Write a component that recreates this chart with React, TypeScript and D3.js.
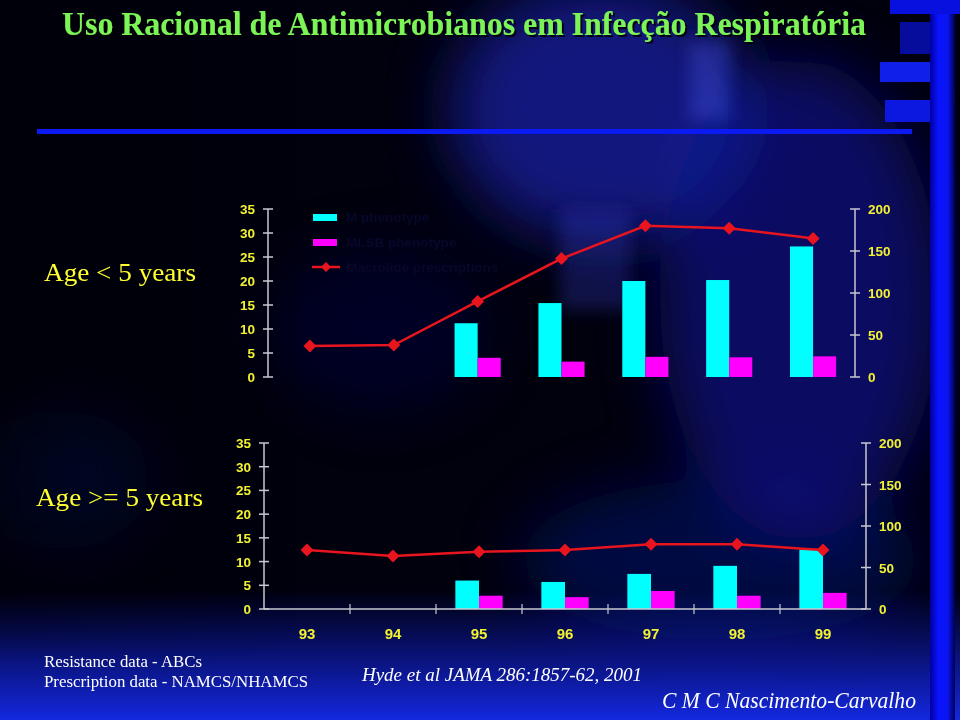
import React from "react";
import * as d3 from "d3";

const years = ["93", "94", "95", "96", "97", "98", "99"];
const topM = [null, null, 11.2, 15.4, 20.0, 20.2, 27.2];
const topMLS = [null, null, 4.0, 3.2, 4.2, 4.1, 4.3];
const topRx = [37, 38, 90, 141, 180, 177, 165];
const botM = [null, null, 6.0, 5.7, 7.4, 9.1, 12.5];
const botMLS = [null, null, 2.8, 2.5, 3.8, 2.8, 3.4];
const botRx = [71, 64, 69, 71, 78, 78, 71];
const leftTicks = [0, 5, 10, 15, 20, 25, 30, 35];
const rightTicks = [0, 50, 100, 150, 200];
const legendLabels = ["M phenotype", "MLSB phenotype", "Macrolide prescriptions"];

const CYAN = "#00ffff";
const MAGENTA = "#ff00ff";
const RED = "#e8141e";
const YELLOW = "#f2f232";
const AXIS = "#c8c8d0";
const SANS = "Liberation Sans, Arial, sans-serif";
const SERIF = "Liberation Serif, Times New Roman, serif";

type PanelProps = {
  left: number; right: number; y0: number; y1: number;
  m: (number | null)[]; mls: (number | null)[]; rx: number[];
  xAxis: boolean; legend: boolean;
};

function Panel({ left, right, y0, y1, m, mls, rx, xAxis, legend }: PanelProps) {
  const x = d3.scaleBand().domain(years).range([left, right]).padding(0);
  const bw = x.bandwidth();
  const x1 = d3.scaleBand().domain(["m", "mls"]).range([bw * 0.225, bw * 0.775]).padding(0);
  const yL = d3.scaleLinear().domain([0, 35]).range([y0, y1]);
  const yR = d3.scaleLinear().domain([0, 200]).range([y0, y1]);
  const cx = (yr: string) => (x(yr) as number) + bw / 2;
  const line = d3.line<number>().x((_, i) => cx(years[i])).y((d) => yR(d));
  const dia = (px: number, py: number, r: number) =>
    `M${px - r},${py}L${px},${py - r}L${px + r},${py}L${px},${py + r}Z`;

  return (
    <g>
      {years.map((yr, i) => (
        <g key={yr}>
          {m[i] != null && (
            <rect x={(x(yr) as number) + (x1("m") as number)} width={x1.bandwidth()}
              y={yL(m[i] as number)} height={y0 - yL(m[i] as number)} fill={CYAN} />
          )}
          {mls[i] != null && (
            <rect x={(x(yr) as number) + (x1("mls") as number)} width={x1.bandwidth()}
              y={yL(mls[i] as number)} height={y0 - yL(mls[i] as number)} fill={MAGENTA} />
          )}
        </g>
      ))}
      <line x1={left} x2={left} y1={y1} y2={y0} stroke={AXIS} strokeWidth={1.5} />
      {leftTicks.map((t) => (
        <g key={t}>
          <line x1={left - 5} x2={left + 5} y1={yL(t)} y2={yL(t)} stroke={AXIS} strokeWidth={1.5} />
          <text x={left - 13} y={yL(t) + 5} textAnchor="end" fill={YELLOW}
            fontFamily={SANS} fontWeight="bold" fontSize={13.5}>{t}</text>
        </g>
      ))}
      <line x1={right} x2={right} y1={y1} y2={y0} stroke={AXIS} strokeWidth={1.5} />
      {rightTicks.map((t) => (
        <g key={t}>
          <line x1={right - 5} x2={right + 5} y1={yR(t)} y2={yR(t)} stroke={AXIS} strokeWidth={1.5} />
          <text x={right + 13} y={yR(t) + 5} textAnchor="start" fill={YELLOW}
            fontFamily={SANS} fontWeight="bold" fontSize={13.5}>{t}</text>
        </g>
      ))}
      {xAxis && (
        <g>
          <line x1={left} x2={right} y1={y0} y2={y0} stroke={AXIS} strokeWidth={1.5} />
          {years.slice(1).map((yr) => (
            <line key={yr} x1={x(yr)} x2={x(yr)} y1={y0 - 5} y2={y0 + 5} stroke={AXIS} strokeWidth={1.2} />
          ))}
          {years.map((yr) => (
            <text key={yr} x={cx(yr)} y={y0 + 30} textAnchor="middle" fill={YELLOW}
              fontFamily={SANS} fontWeight="bold" fontSize={15}>{yr}</text>
          ))}
        </g>
      )}
      <path d={line(rx) || ""} fill="none" stroke={RED} strokeWidth={2.5} />
      {rx.map((v, i) => (
        <path key={i} d={dia(cx(years[i]), yR(v), 6.5)} fill={RED} />
      ))}
      {legend && (
        <g>
          <rect x={left + 45} y={y1 + 5} width={24} height={7} fill={CYAN} />
          <rect x={left + 45} y={y1 + 30} width={24} height={7} fill={MAGENTA} />
          <line x1={left + 44} x2={left + 72} y1={y1 + 58} y2={y1 + 58} stroke={RED} strokeWidth={2.5} />
          <path d={dia(left + 58, y1 + 58, 5)} fill={RED} />
          {legendLabels.map((l, i) => (
            <text key={l} x={left + 78} y={y1 + 13 + i * 25} fill="#07072a"
              fontFamily={SANS} fontWeight="bold" fontSize={13.5}>{l}</text>
          ))}
        </g>
      )}
    </g>
  );
}

export default function App() {
  return (
    <svg width={960} height={720} style={{ display: "block", position: "absolute", left: 0, top: 0 }}>
      <defs>
        <filter id="blur20" x="-50%" y="-50%" width="200%" height="200%">
          <feGaussianBlur stdDeviation="30" />
        </filter>
        <filter id="blur8" x="-50%" y="-50%" width="200%" height="200%">
          <feGaussianBlur stdDeviation="8" />
        </filter>
        <filter id="shadow" x="-5%" y="-30%" width="110%" height="160%">
          <feDropShadow dx="2" dy="2" stdDeviation="0.5" floodColor="#000000" floodOpacity="0.85" />
        </filter>
        <linearGradient id="bottomGrad" x1="0" y1="0" x2="0" y2="1">
          <stop offset="0" stopColor="#1020d8" stopOpacity="0" />
          <stop offset="1" stopColor="#1428e0" stopOpacity="1" />
        </linearGradient>
        <linearGradient id="leftDark" x1="0" y1="0" x2="1" y2="0">
          <stop offset="0" stopColor="#000006" stopOpacity="1" />
          <stop offset="1" stopColor="#000006" stopOpacity="0" />
        </linearGradient>
        <linearGradient id="leftDarkV" x1="0" y1="0" x2="0" y2="1">
          <stop offset="0.8" stopColor="#ffffff" stopOpacity="1" />
          <stop offset="1" stopColor="#ffffff" stopOpacity="0" />
        </linearGradient>
        <mask id="leftMask">
          <rect x={0} y={0} width={300} height={660} fill="url(#leftDarkV)" />
        </mask>
        <linearGradient id="strip" x1="0" y1="0" x2="1" y2="0">
          <stop offset="0" stopColor="#0000a0" />
          <stop offset="0.35" stopColor="#0a14ff" />
          <stop offset="0.7" stopColor="#0a14f0" />
          <stop offset="1" stopColor="#000050" />
        </linearGradient>
      </defs>
      <rect x={0} y={0} width={960} height={720} fill="#01010e" />
      <g filter="url(#blur20)">
        <ellipse cx={600} cy={110} rx={150} ry={130} fill="#1a28c8" opacity={0.6} />
        <ellipse cx={800} cy={300} rx={140} ry={240} fill="#0c1aa8" opacity={0.55} />
        <ellipse cx={720} cy={560} rx={200} ry={80} fill="#0a1490" opacity={0.4} />
        <ellipse cx={380} cy={330} rx={110} ry={80} fill="#0a1070" opacity={0.25} />
        <ellipse cx={60} cy={480} rx={90} ry={70} fill="#0a1480" opacity={0.35} />
      </g>
      <g filter="url(#blur8)">
        <rect x={690} y={40} width={40} height={80} fill="#5060ff" opacity={0.3} />
        <rect x={560} y={210} width={70} height={100} fill="#3a48e8" opacity={0.25} />
      </g>
      <rect x={0} y={590} width={960} height={130} fill="url(#bottomGrad)" />
      <rect x={0} y={0} width={300} height={660} fill="url(#leftDark)" opacity={0.6} mask="url(#leftMask)" />
      <rect x={930} y={0} width={25} height={720} fill="url(#strip)" />
      <rect x={890} y={0} width={70} height={14} fill="#0810e0" />
      <rect x={880} y={62} width={50} height={20} fill="#1020e8" />
      <rect x={900} y={22} width={30} height={32} fill="#0810c0" opacity={0.8} />
      <rect x={885} y={100} width={45} height={22} fill="#0c18e0" />
      <rect x={37} y={129} width={875} height={5} fill="#0a1af0" />

      <text x={62} y={35} fill="#7cf458" fontFamily={SERIF} fontWeight="bold" fontSize={33}
        filter="url(#shadow)" textLength={804} lengthAdjust="spacingAndGlyphs">Uso Racional de Antimicrobianos em Infecção Respiratória</text>

      <text x={44} y={281} fill="#ffff30" fontFamily={SERIF} fontSize={25}
        textLength={152} lengthAdjust="spacingAndGlyphs">Age &lt; 5 years</text>
      <text x={36} y={506} fill="#ffff30" fontFamily={SERIF} fontSize={25}
        textLength={167} lengthAdjust="spacingAndGlyphs">Age &gt;= 5 years</text>

      <Panel left={268} right={855} y0={377} y1={209} m={topM} mls={topMLS} rx={topRx} xAxis={false} legend={true} />
      <Panel left={264} right={866} y0={609} y1={443} m={botM} mls={botMLS} rx={botRx} xAxis={true} legend={false} />

      <text x={44} y={667} fill="#ffffff" fontFamily={SERIF} fontSize={16}
        textLength={158} lengthAdjust="spacingAndGlyphs">Resistance data - ABCs</text>
      <text x={44} y={687} fill="#ffffff" fontFamily={SERIF} fontSize={16}
        textLength={264} lengthAdjust="spacingAndGlyphs">Prescription data - NAMCS/NHAMCS</text>
      <text x={362} y={681} fill="#ffffff" fontFamily={SERIF} fontStyle="italic" fontSize={19}
        textLength={280} lengthAdjust="spacingAndGlyphs">Hyde et al JAMA 286:1857-62, 2001</text>
      <text x={662} y={708} fill="#ffffff" fontFamily={SERIF} fontStyle="italic" fontSize={23}
        textLength={254} lengthAdjust="spacingAndGlyphs">C M C Nascimento-Carvalho</text>
    </svg>
  );
}
